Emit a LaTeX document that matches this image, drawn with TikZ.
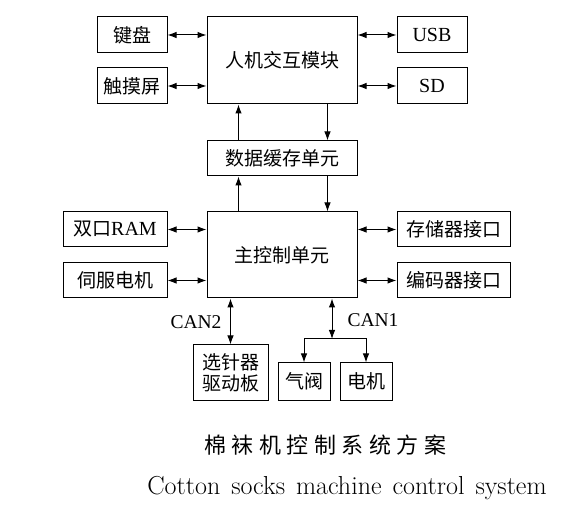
\documentclass[tikz,border=0pt]{standalone}
\usepackage{fontspec}
\setmainfont{Liberation Serif}
\newfontfamily\lmr{Latin Modern Roman}
\newfontfamily\cjk{Noto Sans CJK SC}
\newfontfamily\cjktitle[LetterSpace=25]{Noto Sans CJK SC}
\usetikzlibrary{arrows.meta}
\begin{document}
\begin{tikzpicture}[x=1pt,y=-1pt,
  box/.style={draw,line width=1pt,inner sep=0pt,font=\fontsize{20}{22}\selectfont,align=center},
  arr/.style={line width=1pt,-{Latex[length=9pt,width=6.5pt]}},
  dbl/.style={line width=1pt,{Latex[length=9pt,width=6.5pt]}-{Latex[length=9pt,width=6.5pt]}},
  lbl/.style={font=\fontsize{19.5}{22}\selectfont,inner sep=0pt}]
\useasboundingbox (0,0) rectangle (570,518);
\def\cj#1{{\fontsize{19}{22}\selectfont\cjk #1}}
\node[box,minimum width=70pt,minimum height=36pt] (kb) at (132,35) {\cj{键盘}};
\node[box,minimum width=70pt,minimum height=36pt] (touch) at (132,86) {\cj{触摸屏}};
\node[box,minimum width=150pt,minimum height=87pt] (hmi) at (282,60.5) {\cj{人机交互模块}};
\node[box,minimum width=70pt,minimum height=36pt] (usb) at (432,35) {USB};
\node[box,minimum width=70pt,minimum height=36pt] (sd) at (432,86) {SD};
\node[box,minimum width=150pt,minimum height=35pt] (buf) at (282,158.5) {\cj{数据缓存单元}};
\node[box,minimum width=150pt,minimum height=86pt] (main) at (282,255) {\cj{主控制单元}};
\node[box,minimum width=104pt,minimum height=35pt] (ram) at (115,229.5) {\cj{双口}RAM};
\node[box,minimum width=104pt,minimum height=35pt] (servo) at (115,280.5) {\cj{伺服电机}};
\node[box,minimum width=113pt,minimum height=35pt] (stor) at (453.5,229.5) {\cj{存储器接口}};
\node[box,minimum width=113pt,minimum height=35pt] (enc) at (453.5,280.5) {\cj{编码器接口}};
\node[box,minimum width=75pt,minimum height=55pt] (sel) at (230.5,372.5) {\cj{选针器}\\[-1pt]\cj{驱动板}};
\node[box,minimum width=52pt,minimum height=37pt] (valve) at (304,381.5) {\cj{气阀}};
\node[box,minimum width=52pt,minimum height=37pt] (motor) at (366,381.5) {\cj{电机}};
% horizontal links
\draw[dbl] (kb.east) -- (kb.east -| hmi.west);
\draw[dbl] (touch.east) -- (touch.east -| hmi.west);
\draw[dbl] (hmi.east |- usb.west) -- (usb.west);
\draw[dbl] (hmi.east |- sd.west) -- (sd.west);
\draw[dbl] (ram.east) -- (ram.east -| main.west);
\draw[dbl] (servo.east) -- (servo.east -| main.west);
\draw[dbl] (main.east |- stor.west) -- (stor.west);
\draw[dbl] (main.east |- enc.west) -- (enc.west);
% vertical links
\draw[arr] ([xshift=32pt]buf.north west) -- ([xshift=32pt]hmi.south west);
\draw[arr] ([xshift=-30pt]hmi.south east) -- ([xshift=-30pt]buf.north east);
\draw[arr] ([xshift=32pt]main.north west) -- ([xshift=32pt]buf.south west);
\draw[arr] ([xshift=-30pt]buf.south east) -- ([xshift=-30pt]main.north east);
\draw[dbl] ([xshift=24pt]main.south west) -- ([xshift=24pt]main.south west |- sel.north);
\coordinate (br) at (332,339);
\draw[dbl] (main.south -| br) -- (br);
\draw[arr] (br) -| (valve.north);
\draw[arr] (br) -| (motor.north);
\node[lbl] (can2) at (196,322) {CAN2};
\node[lbl] (can1) at (373,320) {CAN1};
% captions
\node[inner sep=0pt,font=\fontsize{22}{26}\selectfont\cjktitle] (t1) at (325,445) {棉袜机控制系统方案};
\node[inner sep=0pt,font=\fontsize{26}{30}\selectfont\lmr] (t2) at (347,488) {\spaceskip=11pt Cotton socks machine control system};
\end{tikzpicture}
\end{document}
